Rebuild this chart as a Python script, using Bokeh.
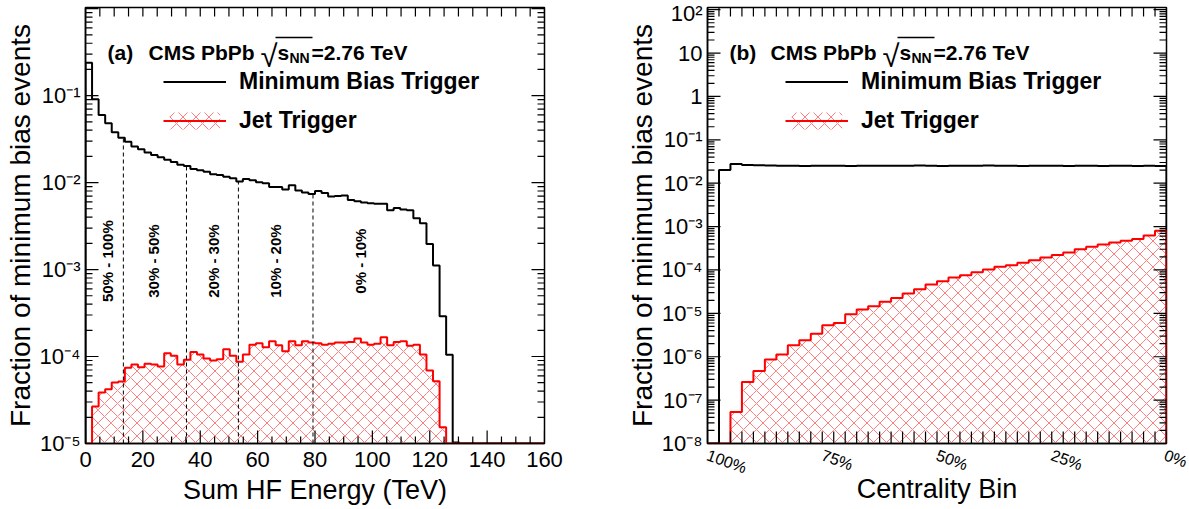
import numpy as np
from bokeh.plotting import figure
from bokeh.models import (FixedTicker, Label, Legend, LegendItem, Range1d)
from bokeh.layouts import row
from bokeh.embed import file_html
from bokeh.resources import INLINE

# ---------------- data ----------------
# (a) fraction of minimum-bias events per Sum-HF-energy bin (70 bins over 0-160 TeV)
hf_min, hf_max, hf_nbins = 0.0, 160.0, 70
mb_vs_hf = [0.238, 0.091, 0.060, 0.048, 0.038, 0.0327, 0.0294, 0.0260, 0.0241, 0.0222,
            0.0208, 0.0195, 0.0183, 0.0172, 0.0160, 0.0155, 0.0143, 0.0139, 0.0133, 0.0125,
            0.0122, 0.0117, 0.0112, 0.0103, 0.0110, 0.0106, 0.0101, 0.0098, 0.0089, 0.0089,
            0.0083, 0.0093, 0.0081, 0.0077, 0.0074, 0.0080, 0.0076, 0.0069, 0.0070, 0.0071,
            0.0063, 0.0061, 0.0059, 0.0058, 0.0057, 0.0057, 0.0048, 0.0051, 0.0049, 0.0048,
            0.0039, 0.0034, 0.00197, 0.00111, 0.00029, 0.000105, 0.0000103, 0, 0, 0,
            0, 0, 0, 0, 0, 0, 0, 0, 0, 0]
jet_vs_hf = [0, 2.66e-5, 3.86e-5, 4.21e-5, 5.02e-5, 5.16e-5, 7.41e-5, 8.09e-5, 7.54e-5, 8.24e-5,
             8.09e-5, 7.67e-5, 1.09e-4, 1.02e-4, 8.09e-5, 9.16e-5, 1.13e-4, 1.055e-4, 9.48e-5, 8.99e-5,
             9.31e-5, 1.21e-4, 1.02e-4, 8.68e-5, 1.055e-4, 1.37e-4, 1.42e-4, 1.28e-4, 1.50e-4, 1.35e-4,
             1.15e-4, 1.50e-4, 1.35e-4, 1.50e-4, 1.45e-4, 1.42e-4, 1.37e-4, 1.40e-4, 1.45e-4, 1.45e-4,
             1.47e-4, 1.61e-4, 1.45e-4, 1.37e-4, 1.40e-4, 1.67e-4, 1.35e-4, 1.47e-4, 1.50e-4, 1.33e-4,
             1.37e-4, 1.055e-4, 6.9e-5, 5.2e-5, 1.54e-5, 0, 0, 0, 0, 0,
             0, 0, 0, 0, 0, 0, 0, 0, 0, 0]
# centrality classes and their Sum-HF-energy boundaries (TeV)
cent_classes = ["50% - 100%", "30% - 50%", "20% - 30%", "10% - 20%", "0% - 10%"]
cent_cuts_hf = [13.2, 35.2, 53.3, 79.3]

# (b) fraction per centrality bin (40 bins, 100% -> 0%)
cent_nbins = 40
mb_vs_cent = [0, 0.0202, 0.0277, 0.0262, 0.0258, 0.0255, 0.0253, 0.0252, 0.0250, 0.0252,
              0.0254, 0.0251, 0.0250, 0.0252, 0.0254, 0.0252, 0.0251, 0.0253, 0.0255, 0.0252,
              0.0250, 0.0252, 0.0251, 0.0253, 0.0255, 0.0252, 0.0251, 0.0250, 0.0252, 0.0253,
              0.0251, 0.0250, 0.0252, 0.0251, 0.0250, 0.0252, 0.0251, 0.0250, 0.0251, 0.0250]
jet_vs_cent = [0, 0, 5.3e-8, 2.6e-7, 4.7e-7, 8.6e-7, 1.12e-6, 1.83e-6, 2.4e-6, 3.4e-6,
               5.3e-6, 6.0e-6, 9.5e-6, 1.22e-5, 1.46e-5, 1.85e-5, 2.27e-5, 2.86e-5, 3.6e-5, 4.6e-5,
               5.5e-5, 6.7e-5, 7.6e-5, 8.9e-5, 1.03e-4, 1.18e-4, 1.29e-4, 1.46e-4, 1.68e-4, 1.94e-4,
               2.2e-4, 2.53e-4, 3.0e-4, 3.42e-4, 3.87e-4, 4.3e-4, 4.7e-4, 5.2e-4, 6.25e-4, 8.0e-4]
cent_tick_bins = [0, 10, 20, 30, 40]
cent_tick_labels = ["100%", "75%", "50%", "25%", "0%"]

SUP = str.maketrans("-0123456789", "\u207b\u2070\u00b9\u00b2\u00b3\u2074\u2075\u2076\u2077\u2078\u2079")


def pow_label(e):
    if e == 0:
        return "1"
    if e == 1:
        return "10"
    return "10" + str(e).translate(SUP)


# ---------------- layout / style ----------------
FONT = "Liberation Sans"
W1, H = 600, 508
W2 = 1189 - W1
FRAME_W, FRAME_H = 459, 436
B_TOP = 7
B_BOT = H - B_TOP - FRAME_H
L1 = 85
L2 = 707 - W1
RED = "#ff0000"
HATCH = "#ff7d7d"


def step_xy(edges, vals, floor):
    xs, ys = [edges[0]], [floor]
    for i, v in enumerate(vals):
        v = v if v > 0 else floor
        xs += [edges[i], edges[i + 1]]
        ys += [v, v]
    xs.append(edges[-1])
    ys.append(floor)
    return xs, ys


def style_axis(ax, ticks, labels, standoff=5, size="22px"):
    ax.ticker = FixedTicker(ticks=ticks, minor_ticks=[])
    ax.axis_line_color = "black"
    ax.axis_line_width = 1.5
    ax.major_tick_in = 0
    ax.major_tick_out = 0
    ax.minor_tick_in = 0
    ax.minor_tick_out = 0
    ax.major_label_text_font = FONT
    ax.major_label_text_color = "black"
    ax.major_label_text_font_size = size
    ax.major_label_standoff = standoff
    ax.major_label_overrides = labels


def helpers(xr, yr):
    lo, hi = float(np.log10(yr.start)), float(np.log10(yr.end))
    fx = lambda px: float(xr.start + px / FRAME_W * (xr.end - xr.start))
    fy = lambda py: float(10 ** (hi - py / FRAME_H * (hi - lo)))
    return fx, fy


def ticks_inward(p, xr, yr, fx, fy, x_bottom, x_top, y_major, y_minor):
    """ROOT-style inward tick marks on all four sides of the frame (lengths in px)."""
    xs, ys = [], []
    for vals, ln in x_bottom:
        for v in vals:
            xs.append([v, v])
            ys.append([yr.start, fy(FRAME_H - ln)])
    for vals, ln in x_top:
        for v in vals:
            xs.append([v, v])
            ys.append([yr.end, fy(ln)])
    for vals, ln in ((y_major, 13), (y_minor, 7)):
        for v in vals:
            xs.append([xr.start, fx(ln)])
            ys.append([v, v])
            xs.append([xr.end, fx(FRAME_W - ln)])
            ys.append([v, v])
    p.multi_line(xs, ys, line_color="black", line_width=1.2)


def make_panel(width, b_left, b_right, xr, yr, xlabel, x_title_standoff):
    p = figure(width=width, height=H, x_range=xr, y_range=yr, y_axis_type="log",
               output_backend="svg", toolbar_location=None,
               min_border_left=b_left, min_border_right=b_right,
               min_border_top=B_TOP, min_border_bottom=B_BOT)
    p.grid.visible = False
    p.outline_line_color = "black"
    p.outline_line_width = 1.5
    p.background_fill_color = "white"
    p.border_fill_color = "white"
    p.xaxis.axis_label = xlabel
    p.yaxis.axis_label = "Fraction of minimum bias events"
    for ax, size, st in ((p.xaxis[0], "27px", x_title_standoff), (p.yaxis[0], "28px", 1)):
        ax.axis_label_text_font = FONT
        ax.axis_label_text_font_style = "normal"
        ax.axis_label_text_font_size = size
        ax.axis_label_standoff = st
        ax.axis_label_text_color = "black"
    return p


def header(p, fx, fy, tag):
    base = 45
    bold = dict(text_font=FONT, text_font_style="bold", text_color="black",
                text_baseline="alphabetic", text_align="left")
    p.add_layout(Label(x=fx(22), y=fy(base), text=tag, text_font_size="21px", **bold))
    p.add_layout(Label(x=fx(63), y=fy(base), text="CMS PbPb", text_font_size="21px", **bold))
    p.add_layout(Label(x=fx(175), y=fy(base + 4), text="\u221a", text_font_size="31px",
                       text_font=FONT, text_color="black", text_baseline="alphabetic",
                       text_align="left"))
    p.add_layout(Label(x=fx(192), y=fy(base), text="s", text_font_size="21px", **bold))
    p.add_layout(Label(x=fx(204), y=fy(base + 5), text="NN", text_font_size="14px", **bold))
    p.add_layout(Label(x=fx(226), y=fy(base), text="=2.76 TeV", text_font_size="21px", **bold))
    p.line([fx(190), fx(227)], [fy(base - 15), fy(base - 15)], line_color="black", line_width=1.3)


def legend(p, mb_r, jet_q, jet_l):
    lg = Legend(items=[LegendItem(label="Minimum Bias Trigger", renderers=[mb_r]),
                       LegendItem(label="Jet Trigger", renderers=[jet_q, jet_l])],
                location=(78, 309), orientation="vertical")
    lg.label_text_font = FONT
    lg.label_text_font_style = "bold"
    lg.label_text_font_size = "23px"
    lg.label_text_color = "black"
    lg.glyph_width = 63
    lg.glyph_height = 21
    lg.label_height = 21
    lg.label_standoff = 13
    lg.spacing = 12
    lg.padding = 0
    lg.margin = 0
    lg.border_line_alpha = 0
    lg.background_fill_alpha = 0
    p.add_layout(lg)


# ---------------- panel (a) ----------------
xr1 = Range1d(hf_min, hf_max)
yr1 = Range1d(1e-5, 1.03)
p1 = make_panel(W1, L1, W1 - L1 - FRAME_W, xr1, yr1, "Sum HF Energy (TeV)", 5)
fx1, fy1 = helpers(xr1, yr1)

x_major1 = list(range(0, 161, 20))
x_minor1 = [v for v in range(0, 161, 5) if v % 20]
y_major1 = [10.0 ** e for e in range(-5, 1)]
y_minor1 = [k * 10.0 ** e for e in range(-5, 0) for k in range(2, 10)]
style_axis(p1.xaxis[0], x_major1, {t: str(t) for t in x_major1}, standoff=8)
style_axis(p1.yaxis[0], y_major1[:-1], {10.0 ** e: pow_label(e) for e in range(-5, 0)})

edges1 = np.linspace(hf_min, hf_max, hf_nbins + 1)
jq1 = p1.quad(left=[edges1[i] for i in range(hf_nbins) if jet_vs_hf[i] > 0],
              right=[edges1[i + 1] for i in range(hf_nbins) if jet_vs_hf[i] > 0],
              top=[v for v in jet_vs_hf if v > 0], bottom=yr1.start,
              fill_alpha=0, line_alpha=0, hatch_pattern="diagonal_cross",
              hatch_color=HATCH, hatch_scale=13, hatch_weight=1)
xs, ys = step_xy(edges1, mb_vs_hf, yr1.start)
ml1 = p1.line(xs, ys, line_color="black", line_width=2)
xs, ys = step_xy(edges1, jet_vs_hf, yr1.start)
jl1 = p1.line(xs, ys, line_color=RED, line_width=2)

bw = (hf_max - hf_min) / hf_nbins
p1.segment(x0=cent_cuts_hf, y0=[yr1.start] * 4, x1=cent_cuts_hf,
           y1=[mb_vs_hf[int(c // bw)] for c in cent_cuts_hf],
           line_color="black", line_width=1, line_dash="4 3")
for txt, xc in zip(cent_classes, [7.6, 23.6, 44.7, 66.2, 95.8]):
    p1.add_layout(Label(x=xc, y=1.25e-3, text=txt, angle=np.pi / 2, text_font=FONT,
                        text_font_style="bold", text_font_size="15px", text_color="black",
                        text_align="center", text_baseline="middle"))
ticks_inward(p1, xr1, yr1, fx1, fy1,
             x_bottom=[(x_major1, 13), (x_minor1, 7)],
             x_top=[(sorted(x_major1 + x_minor1), 9)],
             y_major=y_major1, y_minor=y_minor1)
header(p1, fx1, fy1, "(a)")
legend(p1, ml1, jq1, jl1)

# ---------------- panel (b) ----------------
xr2 = Range1d(0, cent_nbins)
yr2 = Range1d(1e-8, 10 ** 2.05)
p2 = make_panel(W2, L2, W2 - L2 - FRAME_W, xr2, yr2, "Centrality Bin", -14)
fx2, fy2 = helpers(xr2, yr2)

x_all2 = list(range(0, cent_nbins + 1))
y_major2 = [10.0 ** e for e in range(-8, 3)]
y_minor2 = [k * 10.0 ** e for e in range(-8, 2) for k in range(2, 10)]
style_axis(p2.xaxis[0], cent_tick_bins, dict(zip(cent_tick_bins, cent_tick_labels)),
           standoff=11, size="16px")
p2.xaxis[0].major_label_orientation = -0.35
style_axis(p2.yaxis[0], y_major2, {10.0 ** e: pow_label(e) for e in range(-8, 3)})

edges2 = np.arange(cent_nbins + 1)
jq2 = p2.quad(left=[edges2[i] for i in range(cent_nbins) if jet_vs_cent[i] > 0],
              right=[edges2[i + 1] for i in range(cent_nbins) if jet_vs_cent[i] > 0],
              top=[v for v in jet_vs_cent if v > 0], bottom=yr2.start,
              fill_alpha=0, line_alpha=0, hatch_pattern="diagonal_cross",
              hatch_color=HATCH, hatch_scale=13, hatch_weight=1)
xs, ys = step_xy(edges2, mb_vs_cent, yr2.start)
ml2 = p2.line(xs, ys, line_color="black", line_width=2)
xs, ys = step_xy(edges2, jet_vs_cent, yr2.start)
jl2 = p2.line(xs, ys, line_color=RED, line_width=2)
ticks_inward(p2, xr2, yr2, fx2, fy2, x_bottom=[(x_all2, 12)], x_top=[(x_all2, 9)],
             y_major=y_major2, y_minor=y_minor2)

header(p2, fx2, fy2, "(b)")
legend(p2, ml2, jq2, jl2)

layout = row(p1, p2)
open("out.html", "w").write(file_html(layout, INLINE))
